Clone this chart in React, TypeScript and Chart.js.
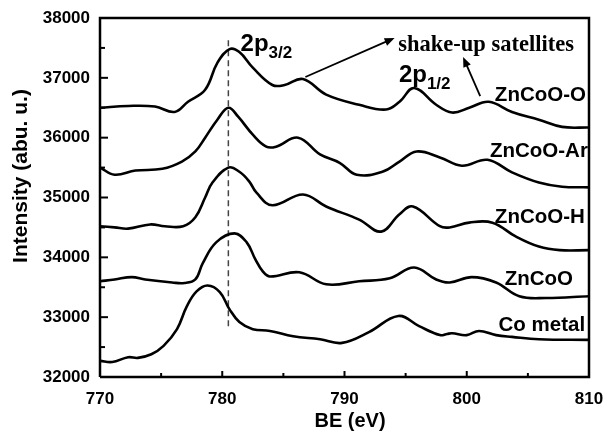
import React, { useEffect, useRef } from "react";
import { Chart, registerables } from "chart.js";

Chart.register(...registerables);

// Binding energy (eV) and intensity readings for each Co 2p spectrum
const beZnCoOO = [770, 772.3, 774.5, 776.1, 777.2, 778.6, 779.6, 780.6, 781.4, 782.5, 784.1, 785.1, 786.6, 788.5, 791.2, 793.4, 794.5, 795.7, 797.5, 798.8, 800.2, 801.8, 803.7, 805.9, 807.8, 810];
const intZnCoOO = [36500, 36530, 36520, 36430, 36600, 36800, 37250, 37480, 37430, 37170, 36880, 36880, 36980, 36720, 36550, 36470, 36600, 36830, 36550, 36420, 36500, 36600, 36430, 36300, 36180, 36170];

const beZnCoOAr = [770, 771.2, 772.9, 775.1, 776.7, 777.8, 778.6, 779.6, 780.5, 781.3, 782.5, 783.6, 784.4, 786.2, 788.0, 789.6, 791.0, 793.1, 794.5, 795.9, 797.8, 799.6, 801.7, 803.7, 805.9, 807.8, 810];
const intZnCoOAr = [35500, 35380, 35450, 35480, 35600, 35770, 36000, 36300, 36500, 36350, 36050, 35850, 35850, 36000, 35720, 35580, 35380, 35430, 35600, 35770, 35670, 35530, 35630, 35420, 35250, 35180, 35170];

const beZnCoOH = [770, 771.2, 772.3, 774.1, 775.3, 776.8, 777.8, 778.6, 779.2, 780.5, 781.4, 782.2, 782.8, 784.1, 786.6, 788.5, 791.2, 793.0, 794.5, 795.6, 797.8, 798.6, 800.2, 802.1, 804.0, 805.9, 807.6, 810];
const intZnCoOH = [34520, 34500, 34480, 34550, 34520, 34520, 34670, 35000, 35250, 35500, 35430, 35270, 35080, 34870, 35050, 34850, 34630, 34430, 34720, 34850, 34520, 34500, 34580, 34580, 34350, 34180, 34120, 34120];

const beZnCoO = [770, 771.2, 772.6, 773.7, 775.9, 776.9, 777.8, 778.4, 779.5, 781.0, 782.0, 782.7, 783.3, 783.9, 786.3, 788.5, 791.2, 793.7, 795.7, 797.5, 798.6, 800.4, 802.4, 804.3, 806.5, 810];
const intZnCoO = [33600, 33630, 33670, 33630, 33580, 33570, 33630, 33900, 34250, 34400, 34250, 33970, 33770, 33680, 33750, 33550, 33600, 33650, 33830, 33630, 33580, 33670, 33580, 33350, 33320, 33350];

const beCoMetal = [770, 771.0, 772.3, 773.1, 774.2, 775.2, 776.3, 777.1, 777.9, 778.8, 779.8, 780.6, 781.4, 782.5, 783.9, 785.8, 788.0, 789.8, 792.0, 794.4, 796.1, 797.8, 798.4, 798.8, 800.0, 801.0, 802.4, 803.7, 805.9, 810];
const intCoMetal = [32270, 32250, 32330, 32320, 32380, 32520, 32800, 33180, 33430, 33530, 33420, 33130, 32920, 32800, 32770, 32680, 32630, 32570, 32750, 33020, 32850, 32700, 32720, 32730, 32700, 32770, 32700, 32670, 32630, 32620];

// 2p3/2 reference position
const peakLineBE = [780.5, 780.5];
const peakLineInt = [32850, 37670];

const xRange = [770, 810];
const yRange = [32000, 38000];

// tick values
const xMajorTicks = [770, 780, 790, 800, 810];
const xMinorTicks = [775, 785, 795, 805];
const yMajorTicks = [32000, 33000, 34000, 35000, 36000, 37000, 38000];
const yMinorTicks = [32500, 33500, 34500, 35500, 36500, 37500];

const sampleNames = ["ZnCoO-O", "ZnCoO-Ar", "ZnCoO-H", "ZnCoO", "Co metal"];
// label anchor (left edge BE, baseline intensity) for each sample name
const sampleLabelBE = [802.3, 801.9, 802.3, 803.1, 802.6];
const sampleLabelInt = [36613, 35677, 34574, 33537, 32769];

const SANS = "'Liberation Sans', Arial, sans-serif";
const SERIF = "'Liberation Serif', 'Times New Roman', serif";

const toPoints = (xs: number[], ys: number[]) => xs.map((x, i) => ({ x, y: ys[i] }));

// text, arrows and labels
const annotations = {
  id: "annotations",
  afterDraw(chart: any) {
    const ctx: CanvasRenderingContext2D = chart.ctx;
    const xs = chart.scales.x;
    const ys = chart.scales.y;
    const px = (v: number) => xs.getPixelForValue(v);
    const py = (v: number) => ys.getPixelForValue(v);
    ctx.save();
    ctx.fillStyle = "#000000";
    ctx.strokeStyle = "#000000";

    ctx.font = `bold 21px ${SANS}`;
    ctx.textAlign = "center";
    ctx.textBaseline = "middle";
    ctx.save();
    ctx.translate(21, 176);
    ctx.rotate(-Math.PI / 2);
    ctx.fillText("Intensity (abu. u.)", 0, 0);
    ctx.restore();
    ctx.font = `bold 20px ${SANS}`;
    ctx.fillText("BE (eV)", 350, 421);

    ctx.textAlign = "left";
    ctx.textBaseline = "alphabetic";
    ctx.font = `bold 20.5px ${SANS}`;
    sampleNames.forEach((n, i) => {
      ctx.fillText(n, px(sampleLabelBE[i]), py(sampleLabelInt[i]));
    });

    const peakLabel = (main: string, sub: string, be: number, inten: number) => {
      const x0 = px(be);
      const y0 = py(inten);
      ctx.font = `bold 24px ${SANS}`;
      ctx.fillText(main, x0, y0);
      const w = ctx.measureText(main).width;
      ctx.font = `bold 17px ${SANS}`;
      ctx.fillText(sub, x0 + w, y0 + 7);
    };
    peakLabel("2p", "3/2", 781.5, 37448);
    peakLabel("2p", "1/2", 794.45, 36930);

    ctx.font = `bold 22.5px ${SERIF}`;
    ctx.fillText("shake-up satellites", px(794.4), py(37448));

    const arrow = (b0: number, i0: number, b1: number, i1: number) => {
      const x0 = px(b0), y0 = py(i0), x1 = px(b1), y1 = py(i1);
      const ang = Math.atan2(y1 - y0, x1 - x0);
      const hl = 10, hw = 4;
      ctx.lineWidth = 1.8;
      ctx.beginPath();
      ctx.moveTo(x0, y0);
      ctx.lineTo(x1 - Math.cos(ang) * hl * 0.8, y1 - Math.sin(ang) * hl * 0.8);
      ctx.stroke();
      ctx.beginPath();
      ctx.moveTo(x1, y1);
      ctx.lineTo(x1 - Math.cos(ang) * hl - Math.sin(ang) * hw, y1 - Math.sin(ang) * hl + Math.cos(ang) * hw);
      ctx.lineTo(x1 - Math.cos(ang) * hl + Math.sin(ang) * hw, y1 - Math.sin(ang) * hl - Math.cos(ang) * hw);
      ctx.closePath();
      ctx.fill();
    };
    arrow(786.8, 37014, 794.1, 37666);
    arrow(801.1, 36696, 799.7, 37348);

    ctx.restore();
  },
};

const tickFont = { family: SANS, size: 17, weight: "bold" as const };

export default function App() {
  const ref = useRef<HTMLCanvasElement>(null);

  useEffect(() => {
    if (!ref.current) return;
    const curve = (label: string, xs: number[], ys: number[]) => ({
      label,
      data: toPoints(xs, ys),
      borderColor: "#000",
      borderWidth: 2.6,
      pointRadius: 0,
      tension: 0.4,
      fill: false,
    });
    // short tick strokes drawn as line-shaped markers, half clipped by the plot edge
    const tickMarks = (label: string, pts: { x: number; y: number }[], len: number, rot: number) => ({
      label,
      data: pts,
      showLine: false,
      pointStyle: "line",
      pointRadius: len,
      pointHoverRadius: len,
      pointRotation: rot,
      pointBorderWidth: 2,
      pointBorderColor: "#000",
      pointBackgroundColor: "#000",
      borderColor: "#000",
      clip: 0,
    });
    const chart = new Chart(ref.current, {
      type: "line",
      data: {
        datasets: [
          curve(sampleNames[0], beZnCoOO, intZnCoOO),
          curve(sampleNames[1], beZnCoOAr, intZnCoOAr),
          curve(sampleNames[2], beZnCoOH, intZnCoOH),
          curve(sampleNames[3], beZnCoO, intZnCoO),
          curve(sampleNames[4], beCoMetal, intCoMetal),
          {
            label: "2p3/2",
            data: toPoints(peakLineBE, peakLineInt),
            borderColor: "#444",
            borderWidth: 1.5,
            borderDash: [6, 4],
            pointRadius: 0,
            tension: 0,
            fill: false,
          },
          tickMarks("y major", yMajorTicks.map((v) => ({ x: xRange[0], y: v })), 8, 0),
          tickMarks("y minor", yMinorTicks.map((v) => ({ x: xRange[0], y: v })), 5, 0),
          tickMarks("x major", xMajorTicks.map((v) => ({ x: v, y: yRange[0] })), 6, 90),
          tickMarks("x minor", xMinorTicks.map((v) => ({ x: v, y: yRange[0] })), 4, 90),
          {
            label: "frame",
            data: toPoints(
              [xRange[0], xRange[1], xRange[1], xRange[0], xRange[0]],
              [yRange[0], yRange[0], yRange[1], yRange[1], yRange[0]]
            ),
            borderColor: "#000",
            borderWidth: 2.5,
            borderJoinStyle: "miter",
            pointRadius: 0,
            tension: 0,
            fill: false,
            clip: false,
          },
        ],
      },
      options: {
        responsive: false,
        animation: false,
        layout: { padding: { top: 18, right: 15, left: 0, bottom: 0 } },
        plugins: { legend: { display: false }, tooltip: { enabled: false } },
        scales: {
          x: {
            type: "linear",
            position: "bottom",
            min: xRange[0],
            max: xRange[1],
            afterFit: (s: any) => {
              s.height = 56;
              s.paddingLeft = 0;
              s.paddingRight = 0;
            },
            grid: { display: false, drawTicks: false },
            border: { display: false },
            ticks: {
              stepSize: 5,
              autoSkip: false,
              maxRotation: 0,
              padding: 12,
              color: "#000",
              font: tickFont,
              callback: (v: any) => (Number(v) % 10 === 0 ? String(v) : ""),
            },
          },
          y: {
            type: "linear",
            position: "left",
            min: yRange[0],
            max: yRange[1],
            afterFit: (s: any) => {
              s.width = 100;
              s.paddingTop = 0;
              s.paddingBottom = 0;
            },
            grid: { display: false, drawTicks: false },
            border: { display: false },
            ticks: {
              stepSize: 500,
              autoSkip: false,
              padding: 10,
              color: "#000",
              font: tickFont,
              callback: (v: any) => (Number(v) % 1000 === 0 ? String(v) : ""),
            },
          },
        },
      },
      plugins: [annotations],
    });
    return () => chart.destroy();
  }, []);

  return (
    <div style={{ position: "absolute", left: 0, top: 0, width: 604, height: 433, background: "#fff" }}>
      <canvas ref={ref} width={604} height={433} />
    </div>
  );
}
